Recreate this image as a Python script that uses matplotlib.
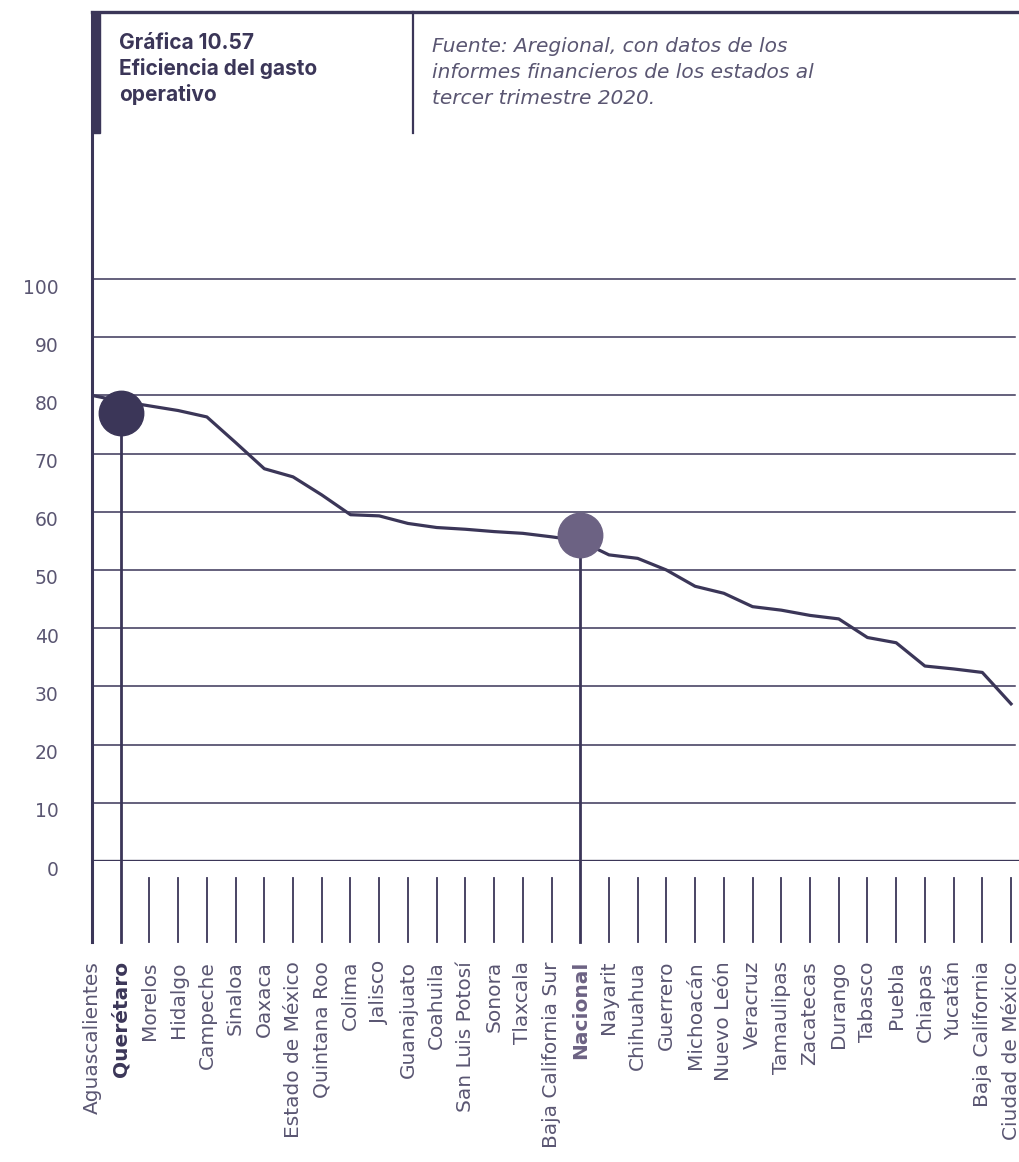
import matplotlib.pyplot as plt
import matplotlib.transforms as mtransforms
from matplotlib.lines import Line2D
from matplotlib.patches import Rectangle

estados = ["Aguascalientes", "Querétaro", "Morelos", "Hidalgo", "Campeche", "Sinaloa",
           "Oaxaca", "Estado de México", "Quintana Roo", "Colima", "Jalisco", "Guanajuato",
           "Coahuila", "San Luis Potosí", "Sonora", "Tlaxcala", "Baja California Sur",
           "Nacional", "Nayarit", "Chihuahua", "Guerrero", "Michoacán", "Nuevo León",
           "Veracruz", "Tamaulipas", "Zacatecas", "Durango", "Tabasco", "Puebla", "Chiapas",
           "Yucatán", "Baja California", "Ciudad de México"]
eficiencia = [80.0, 79.0, 78.2, 77.4, 76.3, 71.9, 67.4, 66.0, 62.9, 59.5, 59.3, 58.0,
              57.3, 57.0, 56.6, 56.3, 55.7, 55.0, 52.6, 52.0, 50.0, 47.2, 46.0,
              43.7, 43.1, 42.2, 41.6, 38.4, 37.5, 33.5, 33.0, 32.4, 27.0]
destacados = ["Querétaro", "Nacional"]
valor_destacado = [77.0, 56.0]
yticks = [0, 10, 20, 30, 40, 50, 60, 70, 80, 90, 100]

oscuro = "#3b3658"
medio = "#6c6283"
texto = "#5a5672"

plt.rcParams['font.family'] = ['DejaVu Sans']

fig = plt.figure(figsize=(10.2, 11.62), dpi=100)
W, H = 1020, 1162
ax = fig.add_axes([92 / W, 1 - 861 / H, (1020 - 92) / W, (861 - 12) / H])
ax.set_xlim(0, (1020 - 92) / 28.72)
ax.set_ylim(0, (861 - 12) / 5.82)
for s in ax.spines.values():
    s.set_visible(False)

for v in yticks[1:]:
    ax.plot([0, (1015 - 92) / 28.72], [v, v], color=oscuro, lw=1.1, zorder=1)
ax.axhline(0, color=oscuro, lw=2.4, zorder=2)
ax.axhline(ax.get_ylim()[1], color=oscuro, lw=2.4, clip_on=False, zorder=2)
ax.plot([0, 0], [ax.get_ylim()[1], -13.9], color=oscuro, lw=2.2, clip_on=False, zorder=2)

xs = list(range(len(estados)))
ax.plot(xs, eficiencia, color=oscuro, lw=2.3, zorder=3, solid_joinstyle='round')

# ticks below the axis
for i, e in enumerate(estados):
    if i == 0 or e in destacados:
        continue
    ax.plot([i, i], [-2.9, -13.9], color=oscuro, lw=1.3, clip_on=False)

for e, v, c in zip(destacados, valor_destacado, [oscuro, medio]):
    i = estados.index(e)
    ax.plot([i, i], [v, -13.9], color=oscuro, lw=2.0, clip_on=False, zorder=4)
    ax.plot(i, v, 'o', ms=32, color=c, zorder=5)

ax.set_xticks(xs)
ax.set_xticklabels(estados, rotation=90, fontsize=14.5, color=texto)
ax.tick_params(axis='x', length=0, pad=72)
for lbl in ax.get_xticklabels():
    if lbl.get_text() in destacados:
        lbl.set_fontweight('bold')
        lbl.set_color(oscuro if lbl.get_text() == "Querétaro" else medio)

ax.set_yticks(yticks)
ax.set_yticklabels([str(v) for v in yticks], fontsize=13.5, color=texto)
ax.tick_params(axis='y', length=0, pad=24)
off = mtransforms.ScaledTranslation(0, -7 / 100, fig.dpi_scale_trans)
for lbl in ax.get_yticklabels():
    lbl.set_transform(lbl.get_transform() + off)

# header box
fig.add_artist(Rectangle((92 / W, 1 - 133 / H), 8 / W, 121 / H, color=oscuro,
                         transform=fig.transFigure))
fig.add_artist(Line2D([413 / W, 413 / W], [1 - 12 / H, 1 - 133 / H], color=oscuro, lw=1.6))
fig.text(119 / W, 1 - 33 / H, "Gráfica 10.57\nEficiencia del gasto\noperativo",
         fontsize=15, fontweight='bold', color=oscuro, va='top', linespacing=1.28,
         family=['Inter', 'DejaVu Sans'])
fig.text(432 / W, 1 - 37 / H,
         "Fuente: Aregional, con datos de los\ninformes financieros de los estados al\ntercer trimestre 2020.",
         fontsize=14.5, style='italic', color=texto, va='top', linespacing=1.45)

fig.savefig("out.png", dpi=100)
